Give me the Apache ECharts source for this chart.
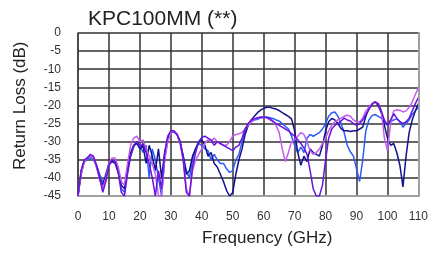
<!DOCTYPE html>
<html><head><meta charset="utf-8">
<script src="https://cdn.jsdelivr.net/npm/echarts@6/dist/echarts.min.js"></script>
<style>html,body{margin:0;padding:0;background:#fff}#c{width:431px;height:253px}</style>
</head><body><div id="c"></div>
<script>
var freq = [];
for (var f = 0; f <= 110; f++) freq.push(f);
var navy = [-45,-39,-35.5,-34.5,-34,-34.5,-37,-40,-42,-39,-36,-35.5,-36,-38.5,-42,-43,-37,-33,-31,-30.5,-32,-31,-36,-31,-34,-38,-32,-40,-33,-29,-27.5,-27.3,-28,-30,-34,-39,-38,-34,-32,-30,-29.5,-31,-34,-33,-36,-37,-39,-41,-43.5,-45,-44,-39,-35,-32,-28,-25.5,-24,-23,-22,-21.3,-20.8,-20.5,-20.5,-20.8,-21,-21.4,-22,-22.5,-23,-23.7,-27,-33,-36.5,-34,-35.5,-32,-33,-33.5,-34,-31,-27,-24.5,-23.6,-24,-25,-26.4,-27,-27,-27.2,-27,-27,-26.5,-26,-23,-21,-19.5,-19,-20,-22,-25.5,-29,-31,-30.5,-33,-36.5,-42.5,-34,-27.5,-24,-21.5,-19.5];
var blue = [-45,-38,-35.5,-35,-34.5,-35,-36.5,-39,-41,-40,-36.5,-35.5,-35.5,-38,-43,-44,-38,-34,-31.5,-30,-31,-33,-31,-40,-32,-35,-40,-45,-35,-29.5,-27.5,-27.3,-28,-30.5,-34,-38,-40,-35,-32,-30.5,-31,-32,-32.5,-35,-33.5,-35,-36,-36,-37.5,-38.5,-38,-35,-33.5,-30,-27,-25.5,-24.5,-24,-23.8,-23.5,-23.3,-23.2,-23.4,-23.6,-24,-24.3,-25,-25.8,-26.5,-28.5,-31,-33,-31.5,-33,-29,-28,-28.5,-28,-27.5,-26.5,-25,-23,-22,-21.8,-23,-25,-27.5,-31,-32.8,-34,-37.5,-41,-35,-27,-24,-22.8,-22.5,-23,-23.5,-24.5,-25.5,-24.5,-24,-23.7,-24.5,-26,-25,-24,-22.5,-21.5,-20.5];
var purple = [-45,-38,-35,-34.5,-33.5,-34,-36.5,-40,-44,-41,-36.5,-35,-35.5,-38.5,-44,-45,-39,-34,-31,-30,-31.5,-30.5,-33,-36,-40,-45,-38,-43,-33,-28.5,-27,-27,-28,-30,-35,-44,-45,-37,-33,-30,-28.8,-28.5,-29,-29.5,-31,-30,-30.5,-31,-31.5,-32,-32.5,-31.5,-31,-29,-26.5,-25,-24,-23.7,-23.4,-23.2,-23.2,-23.3,-23.7,-24.3,-25,-25.5,-26,-26.5,-27,-27.8,-28.5,-29.5,-30.5,-31.7,-33.5,-38,-43,-45,-45,-42,-35,-29,-26.5,-25.5,-25,-24.3,-23.5,-24,-24.3,-25,-25.5,-25,-24,-22.5,-21,-19.8,-19,-19.5,-21.5,-24,-25.5,-24,-22.3,-23.5,-24.5,-25,-24.5,-23.5,-21.5,-19.5,-17.8];
var magenta = [-45,-39,-35.5,-34.5,-34,-34.5,-37,-40.5,-43,-40,-36,-34.5,-34.5,-37,-41,-42,-36,-31,-29,-28.5,-30,-29.5,-32,-34,-36,-39,-45,-45,-35,-30,-27.5,-27.2,-28,-30.5,-35,-43,-45,-38,-35,-33.5,-32,-30.5,-29.5,-30,-29,-30,-30.5,-31,-31,-30,-28.5,-28,-27.8,-27.5,-26.5,-25.5,-24.5,-24,-23.5,-23.3,-23.3,-23.5,-24,-24.5,-25.5,-27.5,-32,-35.5,-33,-30,-29.5,-28.5,-27.5,-28,-30,-32.5,-33.5,-33,-32,-30.5,-29,-27,-25.5,-24.5,-24,-23.5,-23,-22.7,-23,-24,-24.5,-24.5,-23.5,-21.5,-20.5,-19.5,-19,-19.5,-21.5,-29,-32.5,-25,-21.5,-21.2,-21.3,-21.8,-21.5,-20.5,-19,-17,-15];
var xTicks = [0,10,20,30,40,50,60,70,80,90,100,110];
var yTicks = [0,-5,-10,-15,-20,-25,-30,-35,-40,-45];

function pairs(v){ return freq.map(function(x,i){ return [x, v[i]]; }); }
var FONT = '"Liberation Sans", Arial, sans-serif';
var chart = echarts.init(document.getElementById('c'), null, {renderer:'canvas'});
function mk(name, color, v){
  return {name:name, type:'line', data:pairs(v), showSymbol:false, symbol:'none',
    lineStyle:{color:color, width:1.5}, itemStyle:{color:color}, animation:false};
}
chart.setOption({
  animation:false,
  textStyle:{fontFamily:FONT},
  grid:{left:78, right:12, top:33, bottom:57},
  xAxis:{type:'value', min:xTicks[0], max:xTicks[xTicks.length-1], interval:10,
    axisLine:{show:true, onZero:false, lineStyle:{color:'#a0a0a0', width:2}},
    axisTick:{show:false},
    axisLabel:{color:'#333', fontSize:12, margin:15, fontFamily:FONT},
    splitLine:{show:true, lineStyle:{color:'#333', width:1.5}}},
  yAxis:{type:'value', min:yTicks[yTicks.length-1], max:yTicks[0], interval:5,
    axisLine:{show:true, lineStyle:{color:'#444', width:1.5}},
    axisTick:{show:false},
    axisLabel:{color:'#333', fontSize:12, margin:17, fontFamily:FONT},
    splitLine:{show:true, lineStyle:{color:'#333', width:1.5}}},
  graphic:[
    {type:'rect', shape:{x:418, y:32, width:2, height:165}, style:{fill:'#a0a0a0'}, z:10},
    {type:'text', left:88, top:9, style:{text:'KPC100MM (**)', font:'21px "Liberation Sans", Arial, sans-serif', fill:'#222'}},
    {type:'text', left:202, top:230, style:{text:'Frequency (GHz)', font:'17px "Liberation Sans", Arial, sans-serif', fill:'#222'}},
    {type:'text', x:12, y:170, rotation:Math.PI/2, style:{text:'Return Loss (dB)', font:'17px "Liberation Sans", Arial, sans-serif', fill:'#222'}}
  ],
  series:[
    mk('blue', '#2d5cf5', blue),
    mk('navy', '#12128e', navy),
    mk('magenta', '#c45cf0', magenta),
    mk('purple', '#6814dc', purple)
  ]
});
</script></body></html>
